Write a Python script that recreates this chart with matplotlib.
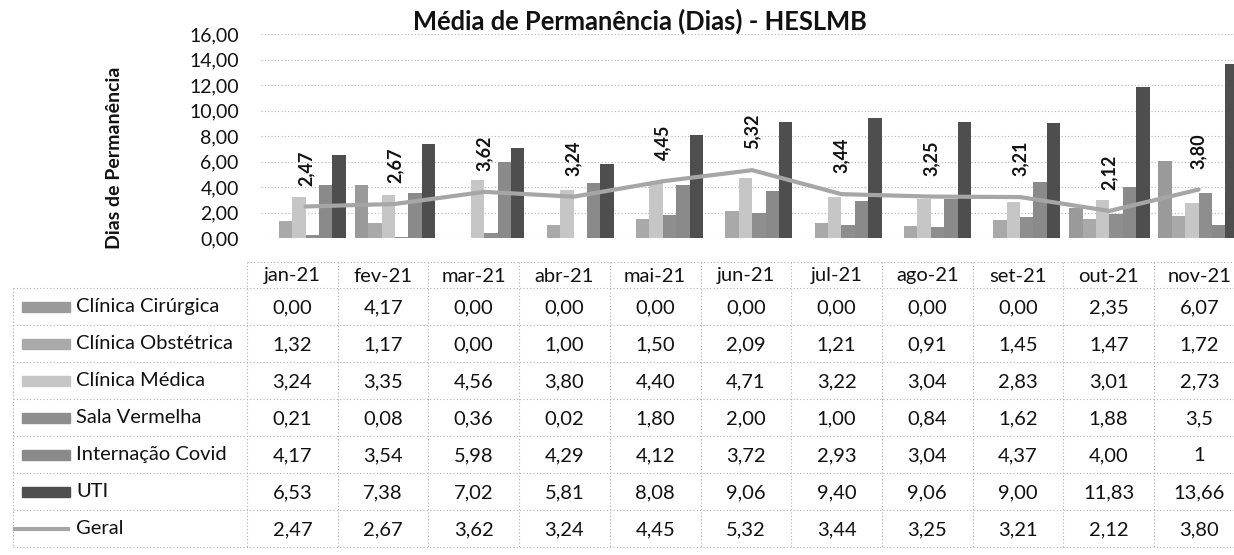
import matplotlib.pyplot as plt
from matplotlib.ticker import FuncFormatter
import numpy as np

plt.rcParams['font.family'] = ['Lato', 'DejaVu Sans']

months = ["jan-21", "fev-21", "mar-21", "abr-21", "mai-21", "jun-21",
          "jul-21", "ago-21", "set-21", "out-21", "nov-21"]

clinica_cirurgica = [0.00, 4.17, 0.00, 0.00, 0.00, 0.00, 0.00, 0.00, 0.00, 2.35, 6.07]
clinica_obstetrica = [1.32, 1.17, 0.00, 1.00, 1.50, 2.09, 1.21, 0.91, 1.45, 1.47, 1.72]
clinica_medica = [3.24, 3.35, 4.56, 3.80, 4.40, 4.71, 3.22, 3.04, 2.83, 3.01, 2.73]
sala_vermelha = [0.21, 0.08, 0.36, 0.02, 1.80, 2.00, 1.00, 0.84, 1.62, 1.88, 3.5]
internacao_covid = [4.17, 3.54, 5.98, 4.29, 4.12, 3.72, 2.93, 3.04, 4.37, 4.00, 1]
uti = [6.53, 7.38, 7.02, 5.81, 8.08, 9.06, 9.40, 9.06, 9.00, 11.83, 13.66]
geral = [2.47, 2.67, 3.62, 3.24, 4.45, 5.32, 3.44, 3.25, 3.21, 2.12, 3.80]

series_names = ["Clínica Cirúrgica", "Clínica Obstétrica", "Clínica Médica",
                "Sala Vermelha", "Internação Covid", "UTI"]
series_values = [clinica_cirurgica, clinica_obstetrica, clinica_medica,
                 sala_vermelha, internacao_covid, uti]
series_colors = ["#9a9a9a", "#a9a9a9", "#c6c6c6", "#8e8e8e", "#8a8a8a", "#4e4e4e"]
geral_color = "#a6a6a6"

# cells of the table that are not written with two decimals
raw_text = {("Sala Vermelha", 10): "3,5", ("Internação Covid", 10): "1"}

W, H = 1234, 555


def fmt(v):
    return f"{v:.2f}".replace(".", ",")


def main():
    fig = plt.figure(figsize=(W / 100, H / 100), dpi=100)

    # chart area
    ax = fig.add_axes([261 / W, (H - 238) / H, (W - 261) / W, 204 / H])
    x = np.arange(len(months))
    bw = 0.15
    for j, (name, vals, col) in enumerate(zip(series_names, series_values, series_colors)):
        ax.bar(x + (j - 2.5) * bw, vals, bw, color=col, label=name, zorder=2)
    ax.plot(x, geral, color=geral_color, lw=3, zorder=3, solid_capstyle="round")
    for i, v in enumerate(geral):
        ax.annotate(fmt(v), (i, v), xytext=(0, 15), textcoords="offset points",
                    rotation=90, ha="center", va="bottom", fontsize=13,
                    fontweight="bold", color="#111111", zorder=4)

    ax.set_xlim(-0.5, -0.5 + (W - 261) / 89.3)
    ax.set_ylim(0, 16)
    ax.set_yticks(np.arange(0, 17, 2))
    ax.yaxis.set_major_formatter(FuncFormatter(lambda v, p: fmt(v)))
    ax.tick_params(axis="y", length=0, pad=16, labelsize=14, labelcolor="#111111")
    ax.set_xticks([])
    for s in ax.spines.values():
        s.set_visible(False)
    ax.grid(axis="y", linestyle=(0, (1, 2)), color="#b5b5b5", lw=0.8, zorder=0)
    ax.set_axisbelow(True)

    fig.text(640 / W, 1 - 21 / H, "Média de Permanência (Dias) - HESLMB",
             ha="center", va="center", fontsize=18.4, fontweight="bold", color="#111111")
    fig.text(114 / W, 1 - 158 / H, "Dias de Permanência", rotation=90,
             ha="center", va="center", fontsize=14, fontweight="bold", color="#111111")

    # data table under the chart, in pixel units
    tb = fig.add_axes([0, 0, 1, 1], zorder=-1)
    tb.set_xlim(0, W)
    tb.set_ylim(H, 0)
    tb.axis("off")

    left, col0, col_w = 13, 247, 90.7
    head_top, head_bot, row_h = 262, 288, 37
    right = col0 + col_w * len(months)
    n_rows = len(series_names) + 1
    bottom = head_bot + row_h * n_rows
    grid_kw = dict(color="#b0b0b0", lw=0.8, linestyle=(0, (1, 2)))

    tb.plot([col0, right], [head_top, head_top], **grid_kw)
    for r in range(n_rows + 1):
        y = head_bot + r * row_h
        tb.plot([left, right], [y, y], **grid_kw)
    tb.plot([left, left], [head_bot, bottom], **grid_kw)
    for c in range(len(months) + 1):
        xc = col0 + c * col_w
        tb.plot([xc, xc], [head_top, bottom], **grid_kw)

    for c, m in enumerate(months):
        tb.text(col0 + (c + 0.5) * col_w, (head_top + head_bot) / 2 + 1, m,
                ha="center", va="center", fontsize=14.5, color="#111111")

    row_names = series_names + ["Geral"]
    row_values = series_values + [geral]
    row_colors = series_colors + [geral_color]
    for r, (name, vals, col) in enumerate(zip(row_names, row_values, row_colors)):
        yc = head_bot + (r + 0.5) * row_h
        if name == "Geral":
            tb.plot([left + 2, 68], [yc, yc], color=col, lw=3)
        else:
            tb.add_patch(plt.Rectangle((22, yc - 5), 48, 10, color=col))
        tb.text(76, yc, name, ha="left", va="center", fontsize=14.5, color="#111111")
        for c, v in enumerate(vals):
            txt = raw_text.get((name, c), fmt(v))
            tb.text(col0 + (c + 0.5) * col_w, yc + 1, txt, ha="center", va="center",
                    fontsize=14.5, color="#111111")

    fig.savefig("out.png", dpi=100, facecolor="white")


main()
